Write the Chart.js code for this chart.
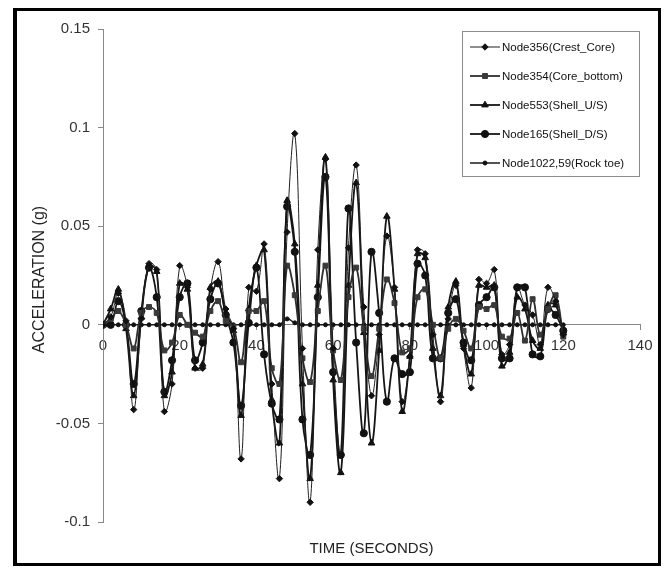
<!DOCTYPE html>
<html>
<head>
<meta charset="utf-8">
<script src="https://cdn.jsdelivr.net/npm/chart.js@4.4.1/dist/chart.umd.min.js"></script>
<style>
  html, body { margin: 0; padding: 0; background: #fff; }
  #wrap { position: relative; width: 668px; height: 573px; }
  #wrap canvas { position: absolute; left: 0; top: 0; }
  #frame {
    position: absolute; left: 13px; top: 8px; width: 648px; height: 558px;
    box-sizing: border-box; border: 3px solid #000; border-left-width: 4px;
    pointer-events: none;
  }
</style>
</head>
<body>
<div id="wrap">
  <canvas id="chart" width="668" height="573"></canvas>
  <div id="frame"></div>
</div>
<script>
// --- data (time step 2 s) ---
const times = [0, 2, 4, 6, 8, 10, 12, 14, 16, 18, 20, 22, 24, 26, 28, 30, 32, 34, 36, 38, 40,
  42, 44, 46, 48, 50, 52, 54, 56, 58, 60, 62, 64, 66, 68, 70, 72, 74, 76, 78, 80,
  82, 84, 86, 88, 90, 92, 94, 96, 98, 100, 102, 104, 106, 108, 110, 112, 114, 116, 118, 120];

const crestCore = [0, 0.004, 0.016, 0.002, -0.043, 0.003, 0.031, 0.028, -0.044, -0.030, 0.030,
  0.019, -0.022, -0.022, 0.018, 0.032, 0.008, -0.002, -0.068, 0.019, 0.017,
  0.041, -0.030, -0.078, 0.047, 0.097, -0.012, -0.090, 0.038, 0.084, -0.012,
  -0.066, 0.039, 0.081, 0.009, -0.036, -0.005, 0.045, 0.019, -0.039, -0.016,
  0.038, 0.036, -0.005, -0.039, 0.003, 0.020, -0.012, -0.032, 0.023, 0.021,
  0.028, -0.015, -0.010, 0.019, 0.010, 0.005, -0.010, 0.019, 0.012, -0.005];

const coreBottom = [0, 0.003, 0.007, 0.000, -0.012, 0.006, 0.009, 0.006, -0.013, -0.009, 0.005,
  0.000, -0.004, -0.006, 0.007, 0.012, 0.002, -0.001, -0.019, 0.007, 0.007,
  0.012, -0.022, -0.030, 0.030, 0.015, -0.017, -0.029, 0.007, 0.030, -0.013,
  -0.028, 0.014, 0.029, -0.002, -0.026, -0.002, 0.023, 0.011, -0.014, -0.012,
  0.014, 0.018, 0.000, -0.017, -0.002, 0.003, -0.003, -0.012, 0.009, 0.008,
  0.010, -0.006, -0.007, 0.006, -0.008, 0.013, -0.005, 0.008, 0.015, -0.006];

const shellUS = [0, 0.008, 0.018, -0.002, -0.036, 0.004, 0.030, 0.027, -0.036, -0.024, 0.021,
  0.018, -0.022, -0.020, 0.019, 0.022, 0.006, -0.003, -0.046, 0.008, 0.030,
  0.038, -0.038, -0.060, 0.063, 0.041, -0.030, -0.078, 0.020, 0.085, -0.028,
  -0.075, 0.020, 0.072, -0.004, -0.060, -0.013, 0.055, 0.018, -0.044, -0.016,
  0.036, 0.034, -0.012, -0.036, 0.009, 0.022, -0.010, -0.025, 0.020, 0.019,
  0.020, -0.021, -0.014, 0.014, 0.008, -0.008, -0.012, 0.010, 0.010, -0.004];

const shellDS = [0, 0.000, 0.012, 0.000, -0.030, 0.007, 0.029, 0.014, -0.034, -0.018, 0.014,
  0.021, -0.018, -0.009, 0.013, 0.021, 0.005, -0.009, -0.041, 0.001, 0.029,
  -0.015, -0.040, -0.048, 0.060, 0.037, -0.048, -0.066, 0.014, 0.075, -0.024,
  -0.066, 0.059, -0.009, -0.055, 0.037, 0.006, -0.039, -0.017, -0.025, -0.024,
  0.031, 0.025, -0.017, -0.017, 0.006, 0.013, -0.009, -0.018, 0.010, 0.014,
  0.019, -0.017, -0.017, 0.019, 0.019, -0.015, -0.016, 0.008, 0.005, -0.003];

const rockToe = [0, 0, 0, 0, 0, 0, 0, 0, 0, 0, 0,
  0, 0, 0, 0, 0, 0, 0, 0, 0, 0,
  0, 0, 0, 0.003, 0.001, 0, 0, 0, 0, 0,
  0, 0, 0, 0, 0, 0, 0, 0, 0, 0,
  0, 0, 0, 0, 0, 0, 0, 0, 0, 0,
  0, 0, 0, 0, 0, 0, 0, 0, 0, 0];

const seriesNames = ['Node356(Crest_Core)', 'Node354(Core_bottom)', 'Node553(Shell_U/S)',
  'Node165(Shell_D/S)', 'Node1022,59(Rock toe)'];

const xTicks = [0, 20, 40, 60, 80, 100, 120, 140];
const xTickLabels = ['0', '20', '40', '60', '80', '100', '120', '140'];
const yTicks = [-0.1, -0.05, 0, 0.05, 0.1, 0.15];
const yTickLabels = ['-0.1', '-0.05', '0', '0.05', '0.1', '0.15'];
const xTitle = 'TIME (SECONDS)';
const yTitle = 'ACCELERATION (g)';

const FONT = 'Arial, "Liberation Sans", Helvetica, sans-serif';

const toPoints = (vals) => vals.map((v, i) => ({ x: times[i], y: v }));

// --- custom legend box (line sample + marker + label) ---
const legendBox = {
  id: 'legendBox',
  afterDraw(chart) {
    const ctx = chart.ctx;
    const x0 = 462, y0 = 31, w = 177, h = 145;
    ctx.save();
    ctx.fillStyle = '#fff';
    ctx.fillRect(x0, y0, w, h);
    ctx.strokeStyle = '#8c8c8c';
    ctx.lineWidth = 1;
    ctx.strokeRect(x0 + 0.5, y0 + 0.5, w, h);
    chart.data.datasets.forEach((ds, i) => {
      const y = y0 + 16 + i * 29;
      ctx.strokeStyle = ds.borderColor;
      ctx.lineWidth = ds.borderWidth;
      ctx.beginPath();
      ctx.moveTo(x0 + 8, y);
      ctx.lineTo(x0 + 38, y);
      ctx.stroke();
      ctx.fillStyle = ds.pointBackgroundColor;
      ctx.strokeStyle = ds.pointBorderColor;
      ctx.lineWidth = 1;
      if (Chart.helpers && Chart.helpers.drawPoint) {
        Chart.helpers.drawPoint(ctx, { pointStyle: ds.pointStyle, radius: ds.pointRadius, borderWidth: 1, rotation: 0 }, x0 + 23, y);
      } else {
        ctx.beginPath(); ctx.arc(x0 + 23, y, ds.pointRadius, 0, Math.PI * 2); ctx.fill();
      }
      ctx.fillStyle = '#111';
      ctx.font = '11.5px ' + FONT;
      ctx.textAlign = 'left';
      ctx.textBaseline = 'middle';
      ctx.fillText(ds.label, x0 + 40, y + 1);
    });
    ctx.restore();
  }
};

// --- axis titles (x axis sits on the zero line, so its title is drawn here) ---
const axisTitles = {
  id: 'axisTitles',
  afterDraw(chart) {
    const { ctx, chartArea: a } = chart;
    ctx.save();
    ctx.fillStyle = '#222';
    ctx.textAlign = 'center';
    ctx.textBaseline = 'middle';
    ctx.font = '15px ' + FONT;
    ctx.fillText(xTitle, (a.left + a.right) / 2, 549);
    ctx.font = '16px ' + FONT;
    ctx.translate(40, (a.top + a.bottom) / 2 + 4);
    ctx.rotate(-Math.PI / 2);
    ctx.fillText(yTitle, 0, 0);
    ctx.restore();
  }
};

function makeSet(i, vals, style, radius, width, color, fill) {
  return {
    label: seriesNames[i],
    data: toPoints(vals),
    borderColor: color,
    borderWidth: width,
    pointStyle: style,
    pointRadius: radius,
    pointBackgroundColor: fill,
    pointBorderColor: fill,
    pointBorderWidth: 1,
    tension: 0.4,
    fill: false
  };
}

window.addEventListener('DOMContentLoaded', () => {
  const ctx = document.getElementById('chart').getContext('2d');
  new Chart(ctx, {
    type: 'line',
    data: {
      datasets: [
        makeSet(0, crestCore, 'rectRot', 3.2, 1, '#1e1e1e', '#111'),
        makeSet(1, coreBottom, 'rect', 3.5, 1.8, '#2e2e2e', '#3a3a3a'),
        makeSet(2, shellUS, 'triangle', 3.8, 1.8, '#151515', '#111'),
        makeSet(3, shellDS, 'circle', 3.6, 1.8, '#151515', '#111'),
        makeSet(4, rockToe, 'circle', 2, 1.5, '#1a1a1a', '#111')
      ]
    },
    options: {
      responsive: false,
      devicePixelRatio: 1,
      animation: false,
      layout: { padding: { left: 0, top: 29, right: 28, bottom: 51 } },
      plugins: { legend: { display: false }, tooltip: { enabled: false } },
      scales: {
        x: {
          type: 'linear',
          min: 0, max: 140,
          position: { y: 0 },
          afterBuildTicks: (s) => { s.ticks = xTicks.map(v => ({ value: v })); },
          ticks: {
            callback: (v) => xTickLabels[xTicks.indexOf(v)],
            font: { family: FONT, size: 15 },
            color: '#333',
            padding: 7,
            maxRotation: 0,
            autoSkip: false
          },
          grid: { drawOnChartArea: false, drawTicks: true, tickLength: 5, color: '#888' },
          border: { display: true, color: '#888', width: 1 }
        },
        y: {
          type: 'linear',
          min: -0.1, max: 0.15,
          position: 'left',
          afterBuildTicks: (s) => { s.ticks = yTicks.map(v => ({ value: v })); },
          afterFit: (s) => { s.width = 103; },
          ticks: {
            callback: (v) => yTickLabels[yTicks.indexOf(v)],
            font: { family: FONT, size: 15 },
            color: '#333',
            padding: 8
          },
          grid: { drawOnChartArea: false, drawTicks: true, tickLength: 5, color: '#888' },
          border: { display: true, color: '#888', width: 1 }
        }
      }
    },
    plugins: [axisTitles, legendBox]
  });
});
</script>
</body>
</html>
